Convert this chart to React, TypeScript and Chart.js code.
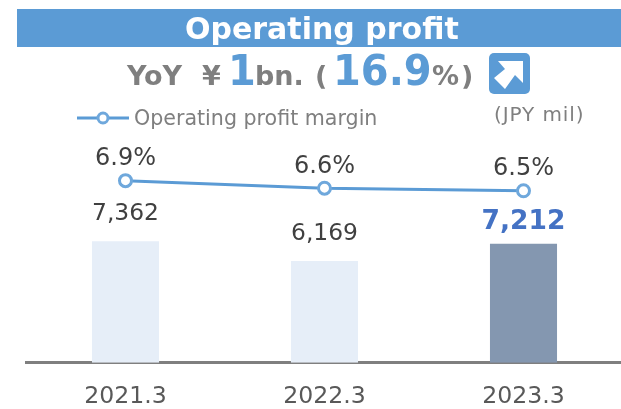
import React, { useEffect, useRef } from "react";
import { Chart, registerables } from "chart.js";

Chart.register(...registerables);

const categories = ["2021.3", "2022.3", "2023.3"];
const profit = [7362, 6169, 7212];
const margin = [6.9, 6.6, 6.5];
const barColors = ["#E6EEF8", "#E6EEF8", "#8497B0"];
const legendLabel = "Operating profit margin";
const FONT = '"DejaVu Sans", sans-serif';

const overlayPlugin = {
  id: "overlay",
  afterDatasetsDraw(chart: any) {
    const { ctx } = chart;
    ctx.save();
    ctx.textAlign = "center";
    ctx.textBaseline = "alphabetic";
    const bars = chart.getDatasetMeta(0).data;
    const line = chart.getDatasetMeta(1).data;
    bars.forEach((b: any, i: number) => {
      const last = i === bars.length - 1;
      ctx.font = `${last ? "bold 26.5px" : "23.4px"} ${FONT}`;
      ctx.fillStyle = last ? "#4472C4" : "#404040";
      ctx.fillText(profit[i].toLocaleString("en-US"), b.x, b.y - (last ? 15 : 21));
    });
    line.forEach((p: any, i: number) => {
      ctx.font = `24px ${FONT}`;
      ctx.fillStyle = "#404040";
      ctx.fillText(margin[i].toFixed(1) + "%", p.x, p.y - 15.5);
    });
    // legend
    ctx.strokeStyle = "#5B9BD5";
    ctx.lineWidth = 3;
    ctx.beginPath();
    ctx.moveTo(77, 118);
    ctx.lineTo(129, 118);
    ctx.stroke();
    ctx.beginPath();
    ctx.arc(103, 118, 5, 0, Math.PI * 2);
    ctx.fillStyle = "#FFFFFF";
    ctx.fill();
    ctx.strokeStyle = "#6FA8DC";
    ctx.stroke();
    ctx.textAlign = "left";
    ctx.font = `20.6px ${FONT}`;
    ctx.fillStyle = "#7F7F7F";
    ctx.fillText(legendLabel, 134, 125);
    ctx.restore();
  },
};

export default function App() {
  const ref = useRef<HTMLCanvasElement>(null);
  useEffect(() => {
    document.body.style.margin = "0";
    const chart = new Chart(ref.current!, {
      type: "bar",
      data: {
        labels: categories,
        datasets: [
          {
            type: "bar",
            data: profit,
            backgroundColor: barColors,
            barPercentage: 0.337,
            categoryPercentage: 1,
            yAxisID: "y",
            order: 2,
          },
          {
            type: "line",
            data: margin,
            borderColor: "#5B9BD5",
            borderWidth: 3,
            pointRadius: 6,
            pointBorderWidth: 3,
            pointBackgroundColor: "#FFFFFF",
            pointBorderColor: "#6FA8DC",
            yAxisID: "y2",
            order: 1,
            tension: 0,
          },
        ],
      } as any,
      options: {
        animation: false,
        responsive: false,
        layout: { padding: { left: 26, right: 17, top: 120, bottom: 0 } },
        plugins: { legend: { display: false }, tooltip: { enabled: false } },
        scales: {
          x: {
            grid: { display: false, drawTicks: false },
            border: { color: "#7F7F7F", width: 3 },
            ticks: { color: "#595959", font: { family: "DejaVu Sans", size: 23.6 }, padding: 20, maxRotation: 0 },
          },
          y: { display: false, min: 0, max: 14724 },
          y2: { display: false, min: -0.36, max: 9.32 },
        },
      },
      plugins: [overlayPlugin],
    } as any);
    return () => chart.destroy();
  }, []);

  const abs = (o: React.CSSProperties): React.CSSProperties => ({ position: "absolute", whiteSpace: "nowrap", fontFamily: FONT, ...o });
  const piece = (width: number, o: React.CSSProperties = {}): React.CSSProperties => ({
    display: "inline-block",
    width,
    ...o,
  });
  const big: React.CSSProperties = { fontSize: 43, color: "#5B9BD5", transform: "scaleX(0.93)", transformOrigin: "0 100%" };
  return (
    <div style={{ position: "relative", width: 621, height: 409, overflow: "hidden", background: "#fff" }}>
      <canvas ref={ref} width={640} height={431} style={{ position: "absolute", left: 0, top: 0 }} />
      <div style={abs({ left: 17, top: 9, width: 604, height: 38, background: "#5B9BD5" })} />
      <div style={abs({ left: 185, top: 9, fontSize: 30, lineHeight: "40px", fontWeight: 700, color: "#fff" })}>Operating profit</div>
      <div style={abs({ left: 127, top: 45, height: 50, lineHeight: "50px", fontWeight: 700, fontSize: 27, color: "#7F7F7F" })}>
        <span style={piece(75)}>YoY</span>
        <span style={piece(26)}>¥</span>
        <span style={piece(27, big)}>1</span>
        <span style={piece(60)}>bn.</span>
        <span style={piece(18)}>(</span>
        <span style={piece(99, big)}>16.9</span>
        <span style={piece(29)}>%</span>
        <span>)</span>
      </div>
      <svg style={{ position: "absolute", left: 489, top: 53 }} width={41} height={41} viewBox="0 0 41 41">
        <rect width="41" height="41" rx="5" fill="#5B9BD5" />
        <path d="M9 8 L34 8 L34 30 L26 22 L16 36 L5 25 L16 16 Z" fill="#fff" />
      </svg>
      <div style={abs({ left: 494, top: 102, fontSize: 20, letterSpacing: 0.9, lineHeight: "24px", color: "#7F7F7F" })}>(JPY mil)</div>
    </div>
  );
}
